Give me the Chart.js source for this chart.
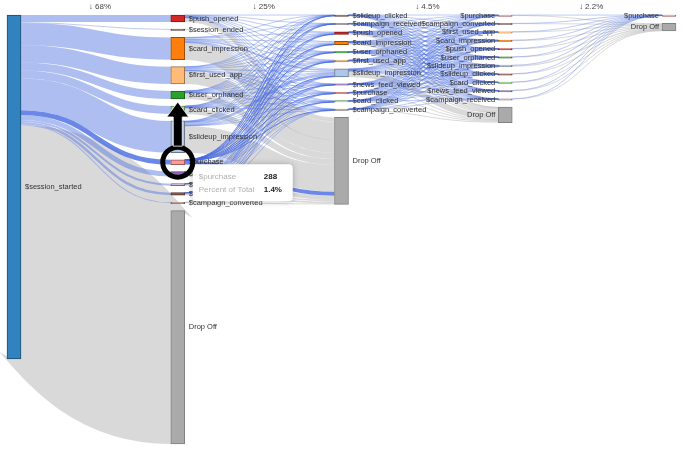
<!DOCTYPE html>
<html>
<head>
<meta charset="utf-8">
<script src="https://cdn.jsdelivr.net/npm/chart.js@4.4.1/dist/chart.umd.min.js"></script>
<style>
  html, body { margin: 0; padding: 0; background: #fff; }
  #wrap { width: 685px; height: 449px; position: relative; }
</style>
</head>
<body>
<div id="wrap"><canvas id="funnel"></canvas></div>
<script>
const dropLabels = ['↓ 68%', '↓ 25%', '↓ 4.5%', '↓ 2.2%'];

const step0Events = ['$session_started'];
const step0Counts = [20558];

const step1Events = ['$push_opened', '$session_ended', '$card_impression', '$first_used_app', '$user_orphaned', '$card_clicked',
  '$slideup_impression', '$purchase', '$news_feed_viewed', '$campaign_received', '$slideup_clicked', '$campaign_converted', 'Drop Off'];
const step1Counts = [420, 60, 1330, 1030, 480, 470, 1900, 288, 300, 120, 150, 60, 13950];

const step2Events = ['$slideup_clicked', '$campaign_received', '$push_opened', '$card_impression', '$user_orphaned', '$first_used_app',
  '$slideup_impression', '$news_feed_viewed', '$purchase', '$card_clicked', '$campaign_converted', 'Drop Off'];
const step2Counts = [50, 50, 160, 190, 60, 110, 480, 70, 80, 80, 78, 5200];
// rows = step1Events (without Drop Off), columns = step2Events
const step2Flows = [
  [4, 10, 30, 25, 8, 15, 40, 6, 10, 8, 10, 254],
  [0, 0, 0, 0, 0, 0, 0, 0, 0, 0, 0, 60],
  [6, 8, 35, 60, 12, 25, 90, 12, 15, 30, 12, 1025],
  [5, 6, 30, 40, 15, 25, 80, 10, 12, 12, 10, 785],
  [3, 4, 15, 15, 10, 15, 30, 6, 6, 5, 6, 365],
  [3, 4, 12, 25, 5, 8, 25, 5, 7, 12, 5, 359],
  [20, 10, 25, 15, 6, 15, 160, 12, 12, 8, 20, 1597],
  [2, 3, 5, 4, 2, 3, 15, 5, 12, 2, 3, 232],
  [2, 2, 5, 4, 1, 2, 10, 12, 4, 2, 2, 254],
  [1, 2, 2, 1, 1, 1, 5, 1, 1, 1, 6, 98],
  [4, 1, 1, 1, 0, 1, 20, 1, 1, 0, 4, 116],
  [0, 0, 0, 0, 0, 0, 5, 0, 0, 0, 0, 55]
];

const step3Events = ['$purchase', '$campaign_converted', '$first_used_app', '$card_impression', '$push_opened', '$user_orphaned',
  '$slideup_impression', '$slideup_clicked', '$card_clicked', '$news_feed_viewed', '$campaign_received', 'Drop Off'];
const step3Counts = [50, 35, 40, 60, 45, 35, 90, 35, 30, 33, 30, 925];
const step3Flows = [
  [2, 1, 1, 2, 1, 1, 8, 6, 1, 1, 1, 25],
  [2, 6, 1, 1, 2, 1, 4, 1, 1, 1, 5, 25],
  [5, 3, 4, 5, 12, 3, 8, 3, 2, 3, 3, 109],
  [6, 4, 5, 18, 5, 4, 10, 3, 8, 4, 3, 120],
  [2, 2, 3, 3, 3, 6, 4, 1, 2, 1, 2, 31],
  [4, 3, 10, 5, 4, 4, 7, 2, 2, 2, 2, 65],
  [10, 8, 8, 12, 8, 8, 40, 14, 5, 8, 6, 353],
  [3, 2, 2, 3, 2, 2, 3, 1, 1, 8, 1, 42],
  [10, 2, 2, 4, 3, 2, 3, 1, 2, 2, 2, 47],
  [3, 2, 2, 5, 3, 2, 2, 2, 6, 2, 1, 50],
  [3, 2, 2, 2, 2, 2, 1, 1, 0, 1, 4, 58]
];

const step4Events = ['$purchase', 'Drop Off'];
const step4Counts = [31, 452];
const step4Flows = [[8, 42], [2, 33], [2, 38], [4, 56], [3, 42], [2, 33], [4, 86], [2, 33], [2, 28], [1, 32], [1, 29]];

const eventColors = {
  '$session_started': '#3182bd',
  '$push_opened': '#d62728',
  '$session_ended': '#8c564b',
  '$card_impression': '#ff7f0e',
  '$first_used_app': '#ffbb78',
  '$user_orphaned': '#2ca02c',
  '$card_clicked': '#98df8a',
  '$slideup_impression': '#aec7e8',
  '$purchase': '#ff9896',
  '$news_feed_viewed': '#9467bd',
  '$campaign_received': '#c5b0d5',
  '$slideup_clicked': '#8c564b',
  '$campaign_converted': '#c49c94',
  'Drop Off': '#aaaaaa'
};

function darker(hex, f) {
  const n = parseInt(hex.slice(1), 16);
  return 'rgb(' + Math.round((n >> 16 & 255) * f) + ',' + Math.round((n >> 8 & 255) * f) + ',' + Math.round((n & 255) * f) + ')';
}

// lay out the node columns in count units
const GAP = 420, MIN_H = 80;
const steps = [[step0Events, step0Counts], [step1Events, step1Counts], [step2Events, step2Counts], [step3Events, step3Counts], [step4Events, step4Counts]];
const nodes = [];
const columns = steps.map(([names, counts], col) => {
  let y = 0;
  return names.map((name, i) => {
    const n = { name, col, value: counts[i], y0: y, out: [], in: [] };
    n.y1 = y + Math.max(n.value, MIN_H);
    y = n.y1 + GAP;
    nodes.push(n);
    return n;
  });
});
const yMax = Math.max(...columns.map(c => c[c.length - 1].y1));

const links = [];
columns[1].forEach(t => links.push({ source: columns[0][0], target: t, value: t.value }));
[step2Flows, step3Flows, step4Flows].forEach((m, k) => {
  m.forEach((row, i) => row.forEach((v, j) => {
    if (v > 0) links.push({ source: columns[k + 1][i], target: columns[k + 2][j], value: v });
  }));
});
links.forEach(l => { l.source.out.push(l); l.target.in.push(l); });
nodes.forEach(n => {
  let o = 0;
  n.out.sort((a, b) => a.target.y0 - b.target.y0).forEach(l => { l.sy = n.y0 + o; o += l.value; });
  let p = 0;
  n.in.sort((a, b) => a.source.y0 - b.source.y0).forEach(l => { l.ty = n.y0 + p; p += l.value; });
});

const hovered = columns[1][step1Events.indexOf('$purchase')];
const HALF = 7;

const linkPlugin = {
  id: 'links',
  beforeDatasetsDraw(chart) {
    const { ctx, scales: { x, y } } = chart;
    const k = Math.abs(y.getPixelForValue(1) - y.getPixelForValue(0));
    const kindOf = l => (l.source === hovered || l.target === hovered) ? 2 : (l.target.name === 'Drop Off' ? 0 : 1);
    ctx.save();
    ctx.lineCap = 'butt';
    [0, 1, 2].forEach(kind => {
      links.filter(l => kindOf(l) === kind).forEach(l => {
        const w = l.value * k;
        if (kind === 0) ctx.strokeStyle = 'rgba(165,165,165,0.42)';
        else if (kind === 1) ctx.strokeStyle = w < 1.5 ? 'rgba(75,110,225,0.36)' : 'rgba(75,110,225,0.45)';
        else ctx.strokeStyle = 'rgba(70,105,225,0.8)';
        const x0 = x.getPixelForValue(l.source.col) + HALF;
        const x1 = x.getPixelForValue(l.target.col) - HALF;
        const y0 = y.getPixelForValue(l.sy + l.value / 2);
        const y1 = y.getPixelForValue(l.ty + l.value / 2);
        const xm = (x0 + x1) / 2;
        ctx.lineWidth = Math.max(1, w);
        ctx.beginPath();
        ctx.moveTo(x0, y0);
        ctx.bezierCurveTo(xm, y0, xm, y1, x1, y1);
        ctx.stroke();
      });
    });
    ctx.restore();
  },
  afterDatasetsDraw(chart) {
    const { ctx, scales: { x, y } } = chart;
    ctx.save();
    ctx.font = '7.5px "Liberation Sans", Arial, sans-serif';
    ctx.textBaseline = 'middle';
    ctx.fillStyle = '#333';
    nodes.forEach(n => {
      const cx = x.getPixelForValue(n.col);
      const cy = y.getPixelForValue((n.y0 + n.y1) / 2);
      if (n.col < 3) {
        ctx.textAlign = 'left';
        ctx.fillText(n.name, cx + HALF + 4, cy);
      } else {
        ctx.textAlign = 'right';
        ctx.fillText(n.name, cx - HALF - 3, cy);
      }
    });
    ctx.font = '8px "Liberation Sans", Arial, sans-serif';
    ctx.fillStyle = '#444';
    ctx.textAlign = 'center';
    dropLabels.forEach((t, i) => {
      ctx.fillText(t, (x.getPixelForValue(i) + x.getPixelForValue(i + 1)) / 2 + 4, 7);
    });
    ctx.restore();
  },
  afterDraw(chart) {
    const { ctx, scales: { x, y } } = chart;
    const cx = x.getPixelForValue(hovered.col);
    const cy = y.getPixelForValue((hovered.y0 + hovered.y1) / 2);
    ctx.save();
    // tooltip box
    const bx = cx + HALF + 8, by = cy + 2, bw = 100, bh = 37;
    ctx.shadowColor = 'rgba(0,0,0,0.25)';
    ctx.shadowBlur = 6;
    ctx.fillStyle = '#fff';
    ctx.beginPath();
    ctx.roundRect(bx, by, bw, bh, 4);
    ctx.fill();
    ctx.shadowColor = 'transparent';
    ctx.font = '8px "Liberation Sans", Arial, sans-serif';
    ctx.textBaseline = 'middle';
    ctx.textAlign = 'left';
    ctx.fillStyle = '#b0b0b0';
    ctx.fillText(hovered.name, bx + 6, by + 13);
    ctx.fillText('Percent of Total', bx + 6, by + 26);
    ctx.font = 'bold 8px "Liberation Sans", Arial, sans-serif';
    ctx.fillStyle = '#222';
    ctx.fillText(String(hovered.value), bx + 71, by + 13);
    ctx.fillText((hovered.value / step0Counts[0] * 100).toFixed(1) + '%', bx + 71, by + 26);
    // circle + arrow annotation
    ctx.strokeStyle = '#000';
    ctx.lineWidth = 5;
    ctx.beginPath();
    ctx.arc(cx, cy, 15, 0, Math.PI * 2);
    ctx.stroke();
    const above = columns[1][step1Events.indexOf('$user_orphaned')];
    const tip = y.getPixelForValue(above.y1) + 3;
    const base = tip + 15, shaftEnd = cy - 16;
    ctx.beginPath();
    ctx.moveTo(cx, tip);
    ctx.lineTo(cx + 11, base);
    ctx.lineTo(cx + 4.5, base);
    ctx.lineTo(cx + 4.5, shaftEnd);
    ctx.lineTo(cx - 4.5, shaftEnd);
    ctx.lineTo(cx - 4.5, base);
    ctx.lineTo(cx - 11, base);
    ctx.closePath();
    ctx.fillStyle = '#000';
    ctx.fill();
    ctx.lineWidth = 1;
    ctx.strokeStyle = 'rgba(255,255,255,0.8)';
    ctx.stroke();
    ctx.restore();
  }
};

new Chart(document.getElementById('funnel').getContext('2d'), {
  type: 'bar',
  data: {
    datasets: [{
      data: nodes.map(n => ({ x: n.col, y: [n.y0, n.y1] })),
      backgroundColor: nodes.map(n => eventColors[n.name]),
      borderColor: nodes.map(n => darker(eventColors[n.name], n.name === 'Drop Off' ? 0.75 : 0.6)),
      borderWidth: 1,
      borderSkipped: false,
      barThickness: 14,
      grouped: false,
      clip: false
    }]
  },
  options: {
    responsive: true,
    maintainAspectRatio: false,
    animation: false,
    events: [],
    layout: { padding: { left: 14, right: 16, top: 15, bottom: 5 } },
    plugins: {
      legend: { display: false },
      tooltip: { enabled: false }
    },
    scales: {
      x: { type: 'linear', min: 0, max: 4, offset: false, display: false },
      y: { min: 0, max: yMax, reverse: true, display: false }
    }
  },
  plugins: [linkPlugin]
});
</script>
</body>
</html>
